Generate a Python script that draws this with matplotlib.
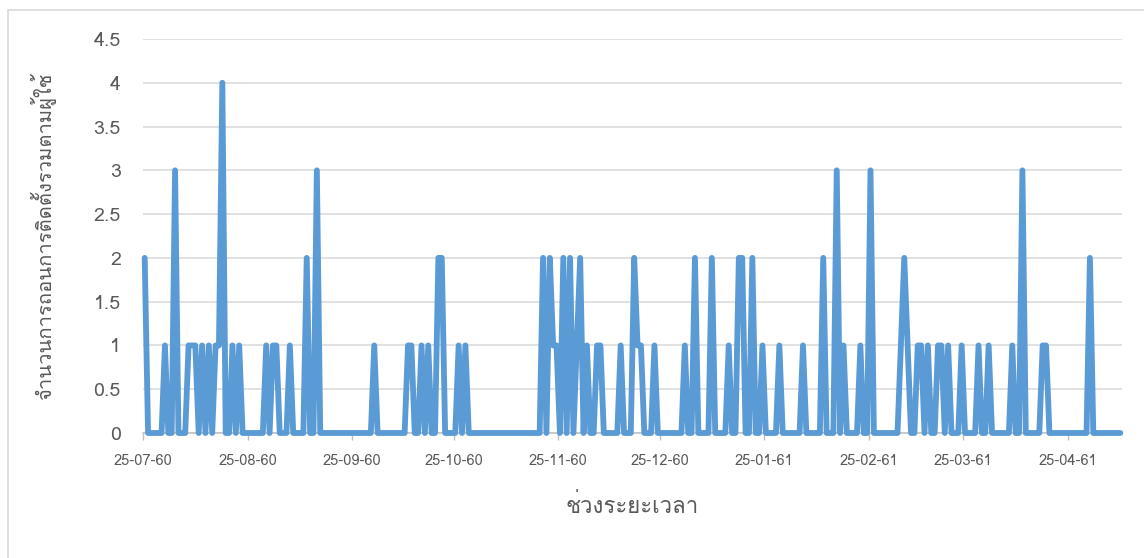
import numpy as np
import pandas as pd
import matplotlib
matplotlib.use("Agg")
import matplotlib.pyplot as plt
from matplotlib import font_manager
from matplotlib.ft2font import FT2Font
from matplotlib.patches import Rectangle

# daily uninstall counts, starting 25-07-2560 (25 Jul 2017)
start_date = "2017-07-25"
uninstalls = [
    2, 0, 0, 0, 0, 0, 1, 0, 0, 3,
    0, 0, 0, 1, 1, 1, 0, 1, 0, 1,
    0, 1, 1, 4, 0, 0, 1, 0, 1, 0,
    0, 0, 0, 0, 0, 0, 1, 0, 1, 1,
    0, 0, 0, 1, 0, 0, 0, 0, 2, 0,
    0, 3, 0, 0, 0, 0, 0, 0, 0, 0,
    0, 0, 0, 0, 0, 0, 0, 0, 1, 0,
    0, 0, 0, 0, 0, 0, 0, 0, 1, 1,
    0, 0, 1, 0, 1, 0, 0, 2, 2, 0,
    0, 0, 0, 1, 0, 1, 0, 0, 0, 0,
    0, 0, 0, 0, 0, 0, 0, 0, 0, 0,
    0, 0, 0, 0, 0, 0, 0, 0, 2, 0,
    2, 1, 1, 0, 2, 0, 2, 0, 1, 2,
    0, 1, 0, 0, 1, 1, 0, 0, 0, 0,
    0, 1, 0, 0, 0, 2, 1, 1, 0, 0,
    0, 1, 0, 0, 0, 0, 0, 0, 0, 0,
    1, 0, 0, 2, 0, 0, 0, 0, 2, 0,
    0, 0, 0, 1, 0, 0, 2, 2, 0, 0,
    2, 0, 0, 1, 0, 0, 0, 0, 1, 0,
    0, 0, 0, 0, 0, 1, 0, 0, 0, 0,
    0, 2, 0, 0, 0, 3, 0, 1, 0, 0,
    0, 0, 1, 0, 0, 3, 0, 0, 0, 0,
    0, 0, 0, 0, 1, 2, 1, 0, 0, 1,
    1, 0, 1, 0, 0, 1, 1, 0, 1, 0,
    0, 0, 1, 0, 0, 0, 0, 1, 0, 0,
    1, 0, 0, 0, 0, 0, 0, 1, 0, 0,
    3, 0, 0, 0, 0, 0, 1, 1, 0, 0,
    0, 0, 0, 0, 0, 0, 0, 0, 0, 0,
    2, 0, 0, 0, 0, 0, 0, 0, 0, 0,
]

tick_dates = ["2017-07-25", "2017-08-25", "2017-09-25", "2017-10-25",
              "2017-11-25", "2017-12-25", "2018-01-25", "2018-02-25",
              "2018-03-25", "2018-04-25"]
tick_labels = ["25-07-60", "25-08-60", "25-09-60", "25-10-60", "25-11-60",
               "25-12-60", "25-01-61", "25-02-61", "25-03-61", "25-04-61"]
y_ticks = [0, 0.5, 1, 1.5, 2, 2.5, 3, 3.5, 4, 4.5]
y_tick_labels = ["0", "0.5", "1", "1.5", "2", "2.5", "3", "3.5", "4", "4.5"]

x_title = "ช่วงระยะเวลา"
y_title = "จำนวนการถอนการติดตั้งรวมตามผู้ใช้"


# look for any installed font that has Thai glyphs
def find_thai_font():
    for f in font_manager.fontManager.ttflist:
        try:
            if FT2Font(f.fname).get_char_index(0x0E08):
                return f.name
        except Exception:
            pass
    return None


thai = find_thai_font()
families = [thai, "DejaVu Sans"] if thai else ["DejaVu Sans"]
plt.rcParams["font.family"] = families

dates = pd.date_range(start_date, periods=len(uninstalls), freq="D")
# Excel date axis puts each day's point in the middle of its day slot
x_pos = dates + pd.Timedelta(hours=12)

fig = plt.figure(figsize=(11.44, 5.58), dpi=100)
W, H = 1144, 558
ax = fig.add_axes([143 / W, 1 - 433 / H, (1122 - 143) / W, (433 - 39) / H])

# chart area border (Excel style)
fig.patches.append(Rectangle((8 / W, -0.1), 1.2, 1 - 10 / H + 0.1,
                             transform=fig.transFigure, fill=False,
                             edgecolor="#D9D9D9", linewidth=1.2))

ax.plot(x_pos, uninstalls, color="#5B9BD5", linewidth=4.2,
        solid_joinstyle="round", solid_capstyle="round", clip_on=False,
        zorder=3)

ax.set_ylim(0, 4.5)
ax.set_xlim(dates[0], dates[-1] + pd.Timedelta(days=1))
ax.set_yticks(y_ticks)
ax.set_yticklabels(y_tick_labels)
ax.set_xticks(pd.to_datetime(tick_dates))
ax.set_xticklabels(tick_labels)

ax.grid(axis="y", color="#D9D9D9", linewidth=1.1)
ax.set_axisbelow(True)
for s in ["top", "right", "left"]:
    ax.spines[s].set_visible(False)
ax.spines["bottom"].set_color("#BFBFBF")
ax.spines["bottom"].set_linewidth(1.1)

ax.tick_params(axis="y", length=0, pad=16, labelsize=14, labelcolor="#595959")
ax.tick_params(axis="x", length=5, width=1, color="#BFBFBF", pad=10,
               labelsize=10.5, labelcolor="#595959")

ax.set_xlabel(x_title, fontsize=16, color="#595959", labelpad=19)
ax.set_ylabel(y_title, fontsize=14.5, color="#595959", labelpad=27)

fig.savefig("out.png", dpi=100)
